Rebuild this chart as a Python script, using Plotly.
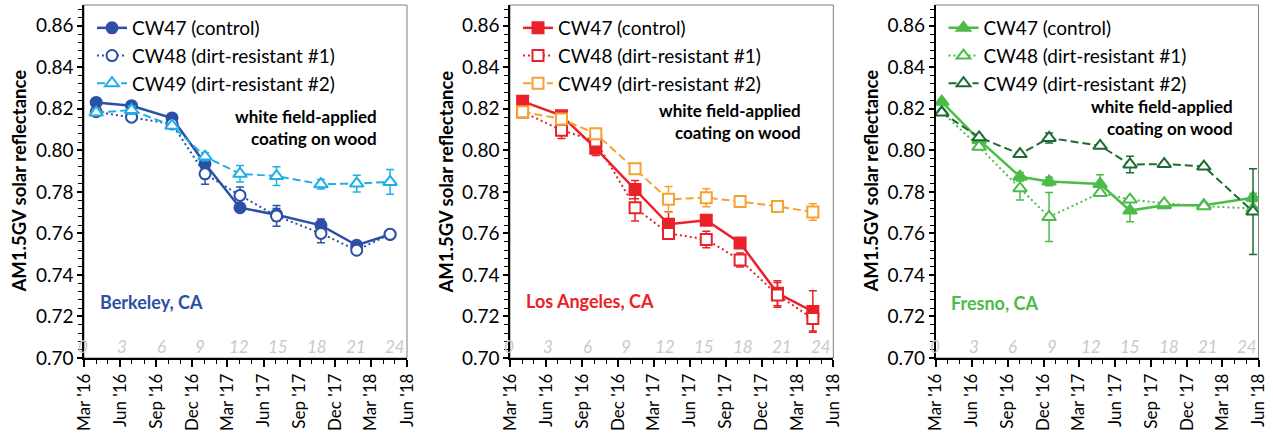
import plotly.graph_objects as go

# ---- measurement dates per site ----
berkeley_dates = ["2016-04-01", "2016-06-30", "2016-10-11", "2017-01-03", "2017-04-02",
                  "2017-07-04", "2017-10-25", "2018-01-24", "2018-04-19"]
la_dates = ["2016-04-02", "2016-07-10", "2016-10-05", "2017-01-13", "2017-04-08",
            "2017-07-13", "2017-10-07", "2018-01-10", "2018-04-10"]
fresno_dates = ["2016-03-17", "2016-06-20", "2016-10-02", "2016-12-15", "2017-04-24",
                "2017-07-09", "2017-10-04", "2018-01-13", "2018-05-18"]

# ---- AM1.5GV solar reflectance (mean) ----
bk_cw47 = [0.8231, 0.8215, 0.8156, 0.7935, 0.7724, 0.7690, 0.7639, 0.7543, 0.7595]
bk_cw48 = [0.8186, 0.8160, 0.8127, 0.7887, 0.7783, 0.7684, 0.7600, 0.7519, 0.7596]
bk_cw49 = [0.8182, 0.8194, 0.8119, 0.7970, 0.7887, 0.7876, 0.7837, 0.7840, 0.7848]

la_cw47 = [0.8236, 0.8167, 0.8010, 0.7811, 0.7644, 0.7663, 0.7554, 0.7312, 0.7224]
la_cw48 = [0.8185, 0.8097, 0.8045, 0.7724, 0.7600, 0.7571, 0.7472, 0.7304, 0.7190]
la_cw49 = [0.8186, 0.8151, 0.8080, 0.7911, 0.7764, 0.7772, 0.7754, 0.7730, 0.7703]

fr_cw47 = [0.8234, 0.8050, 0.7873, 0.7850, 0.7838, 0.7710, 0.7736, 0.7736, 0.7772]
fr_cw48 = [0.8185, 0.8017, 0.7817, 0.7679, 0.7795, 0.7763, 0.7745, 0.7731, 0.7720]
fr_cw49 = [0.8182, 0.8063, 0.7982, 0.8060, 0.8022, 0.7932, 0.7934, 0.7922, 0.7705]

# ---- standard deviations ----
bk_cw47_sd = [0.001, 0.001, 0.001, 0.002, 0.001, 0.003, 0.003, 0.001, 0.001]
bk_cw48_sd = [0.001, 0.002, 0.001, 0.005, 0.004, 0.005, 0.0045, 0.001, 0.001]
bk_cw49_sd = [0.001, 0.002, 0.001, 0.002, 0.004, 0.0045, 0.0023, 0.004, 0.006]

la_cw47_sd = [0.001, 0.001, 0.0035, 0.0044, 0.006, 0.001, 0.001, 0.006, 0.010]
la_cw48_sd = [0.001, 0.004, 0.002, 0.0064, 0.002, 0.004, 0.0034, 0.006, 0.006]
la_cw49_sd = [0.001, 0.001, 0.001, 0.001, 0.0062, 0.0043, 0.001, 0.001, 0.004]

fr_cw47_sd = [0.001, 0.001, 0.002, 0.002, 0.0044, 0.0054, 0.001, 0.001, 0.002]
fr_cw48_sd = [0.001, 0.001, 0.0056, 0.0118, 0.001, 0.001, 0.001, 0.001, 0.001]
fr_cw49_sd = [0.001, 0.001, 0.001, 0.0024, 0.001, 0.004, 0.001, 0.001, 0.0206]

series_names = ["CW47 (control)", "CW48 (dirt-resistant #1)", "CW49 (dirt-resistant #2)"]
site_names = ["Berkeley, CA", "Los Angeles, CA", "Fresno, CA"]
month_labels = ["0", "3", "6", "9", "12", "15", "18", "21", "24"]
y_ticks = [0.70, 0.72, 0.74, 0.76, 0.78, 0.80, 0.82, 0.84, 0.86]

W, H = 1273, 434
FONT = "Lato"

sites = [
    dict(dates=berkeley_dates, vals=[bk_cw47, bk_cw48, bk_cw49],
         sds=[bk_cw47_sd, bk_cw48_sd, bk_cw49_sd],
         colors=["#2C50A5", "#2C50A5", "#1FAEE5"], site_color="#2C50A5",
         symbols=["circle", "circle", "triangle-up"], filled=[True, False, False],
         dom=(84, 407), ytitle_x=18, note=(379, 127), site_pos=(98, 302)),
    dict(dates=la_dates, vals=[la_cw47, la_cw48, la_cw49],
         sds=[la_cw47_sd, la_cw48_sd, la_cw49_sd],
         colors=["#EA2129", "#EA2129", "#F5A231"], site_color="#EA2129",
         symbols=["square", "square", "square"], filled=[True, False, False],
         dom=(510, 833.3), ytitle_x=445, note=(803, 121), site_pos=(524, 301)),
    dict(dates=fresno_dates, vals=[fr_cw47, fr_cw48, fr_cw49],
         sds=[fr_cw47_sd, fr_cw48_sd, fr_cw49_sd],
         colors=["#4BBC48", "#4BBC48", "#1D6B34"], site_color="#4BBC48",
         symbols=["triangle-up", "triangle-up", "triangle-up"], filled=[True, False, False],
         dom=(935.5, 1258.5), ytitle_x=870, note=(1235, 117), site_pos=(949, 303)),
]
dashes = ["solid", "2px,3px", "8px,4px"]
widths = [2.5, 2, 2]

M_TOP, M_BOT = 5, 76
PH = H - M_TOP - M_BOT


def py(pix):
    """pixel row -> paper y"""
    return 1 - (pix - M_TOP) / PH


fig = go.Figure()
annotations = []
shapes = []
layout_axes = {}

for i, s in enumerate(sites):
    n = i + 1
    xa = "x" if n == 1 else f"x{n}"
    ya = "y" if n == 1 else f"y{n}"
    leg = "legend" if n == 1 else f"legend{n}"
    for k in range(3):
        col = s["colors"][k]
        sym = s["symbols"][k]
        fig.add_trace(go.Scatter(
            x=s["dates"], y=s["vals"][k], name=series_names[k],
            xaxis=xa, yaxis=ya, legend=leg,
            mode="lines+markers",
            line=dict(color=col, width=widths[k], dash=dashes[k]),
            marker=dict(symbol=sym, size=12 if "triangle" in sym else 11,
                        color=col if s["filled"][k] else "white",
                        line=dict(color=col, width=2)),
            error_y=dict(type="data", array=s["sds"][k], visible=True,
                         color=col, thickness=1.5, width=4),
        ))

    d0, d1 = s["dom"][0] / W, s["dom"][1] / W
    xkey = "xaxis" if n == 1 else f"xaxis{n}"
    ykey = "yaxis" if n == 1 else f"yaxis{n}"
    layout_axes[xkey] = dict(
        domain=[d0, d1], anchor=ya, type="date", automargin=False,
        range=["2016-03-01", "2018-06-01"], tick0="2016-03-01", dtick="M3",
        tickformat="%b '%y", tickangle=-90, ticks="outside", ticklen=7,
        tickwidth=1.5, tickcolor="black", showline=True, linecolor="black",
        linewidth=1.5, showgrid=False, zeroline=False,
        tickfont=dict(family=FONT, size=17, color="black"),
        minor=dict(dtick="M1", ticks="outside", ticklen=4, tickwidth=1.2,
                   tickcolor="black", showgrid=False),
    )
    layout_axes[ykey] = dict(
        domain=[0, 1], anchor=xa, range=[0.70, 0.87], automargin=False,
        tickvals=y_ticks, tickformat=".2f", ticks="outside", ticklen=5,
        tickwidth=1.5, tickcolor="black", showline=True, linecolor="black",
        linewidth=1.5, showgrid=False, zeroline=False,
        tickfont=dict(family=FONT, size=19, color="black"),
        minor=dict(tick0=0.70, dtick=0.004, ticks="outside", ticklen=4,
                   tickwidth=1.2, tickcolor="black", showgrid=False),
    )
    # plot frame (top and right edges)
    shapes.append(dict(type="rect", xref=f"{xa} domain", yref=f"{ya} domain",
                       x0=0, x1=1, y0=0, y1=1, line=dict(color="#7F7F7F", width=1),
                       layer="below"))

    # legend inside the upper-left of the panel
    layout_axes[leg] = dict(
        x=(s["dom"][0] + 8) / W, y=py(9), xanchor="left", yanchor="top",
        bgcolor="rgba(0,0,0,0)", font=dict(family=FONT, size=19, color="black"),
        tracegroupgap=0, itemwidth=30,
    )

    # y-axis title
    annotations.append(dict(
        text="<b>AM1.5GV solar reflectance</b>", xref="paper", yref="paper",
        x=s["ytitle_x"] / W, y=0.5, xanchor="center", yanchor="middle",
        textangle=-90, showarrow=False,
        font=dict(family=FONT, size=18.5, color="black")))
    # coating note
    annotations.append(dict(
        text="<b>white field-applied<br>coating on wood</b>", xref="paper", yref="paper",
        x=s["note"][0] / W, y=py(s["note"][1]), xanchor="right", yanchor="middle",
        align="right", showarrow=False,
        font=dict(family=FONT, size=17, color="black")))
    # site label
    annotations.append(dict(
        text=f"<b>{site_names[i]}</b>", xref="paper", yref="paper",
        x=s["site_pos"][0] / W, y=py(s["site_pos"][1]), xanchor="left",
        yanchor="middle", showarrow=False,
        font=dict(family=FONT, size=18, color=s["site_color"])))
    # months-of-exposure row along the bottom of the panel
    for j, lab in enumerate(month_labels):
        annotations.append(dict(
            text=f"<i>{lab}</i>", xref=f"{xa} domain", yref="paper",
            x=-0.003 + j * 39 / 323, y=py(346), xanchor="center", yanchor="middle",
            showarrow=False,
            font=dict(family=FONT, size=17, color="#C9C9C9")))

fig.update_layout(
    width=W, height=H,
    margin=dict(l=0, r=0, t=M_TOP, b=M_BOT),
    paper_bgcolor="white", plot_bgcolor="white",
    showlegend=True,
    annotations=annotations, shapes=shapes,
    **layout_axes,
)

fig.write_html("out.html")
